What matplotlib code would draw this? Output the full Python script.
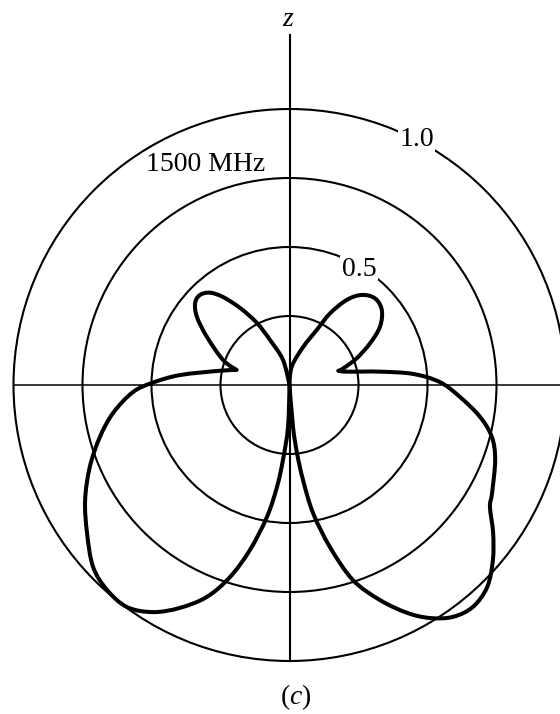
import numpy as np
import matplotlib
matplotlib.use("Agg")
import matplotlib.pyplot as plt
from matplotlib.path import Path
from matplotlib.patches import PathPatch, Circle

plt.rcParams["mathtext.fontset"] = "custom"
plt.rcParams["mathtext.rm"] = "Liberation Serif"
plt.rcParams["mathtext.it"] = "Liberation Serif:italic"

# ---- data (angle from +z axis in degrees, normalized field magnitude) ----
right_theta = [0, 6.9, 19.8, 26.3, 29.5, 33.9, 38.7, 44.6, 50.9, 57.2, 62.6, 68.3, 72.8, 73.7,
               76.9, 81.6, 84.9, 88.9, 94.0, 99.5, 104.4, 110.0, 118.1, 121.3, 126.0, 130.7,
               135.6, 140.4, 144.8, 148.9, 152.7, 157.2, 162.0, 166.0, 169.6, 171.9, 173.7,
               175.2, 180]
right_r = [0, 0.067, 0.147, 0.222, 0.298, 0.371, 0.418, 0.441, 0.431, 0.390, 0.329, 0.262, 0.204, 0.184,
           0.213, 0.331, 0.450, 0.545, 0.619, 0.700, 0.757, 0.793, 0.832, 0.850, 0.912, 0.972,
           1.024, 1.043, 1.028, 0.986, 0.929, 0.845, 0.743, 0.605, 0.471, 0.348, 0.248,
           0.153, 0]

left_theta = [0, 14.6, 23.4, 27.7, 32.7, 37.1, 40.7, 44.8, 49.0, 53.7, 59.8, 69.4, 74.1,
              78.4, 84.8, 89.0, 92.6, 99.0, 105.3, 112.3, 119.4, 126.2, 132.8, 138.3, 143.8,
              149.0, 153.8, 158.7, 162.8, 166.5, 170.3, 173.0, 175.0, 178.0, 180]
left_r = [0, 0.094, 0.178, 0.254, 0.332, 0.400, 0.441, 0.460, 0.453, 0.416, 0.346, 0.257, 0.199,
          0.257, 0.398, 0.495, 0.568, 0.647, 0.712, 0.782, 0.850, 0.909, 0.970, 0.994, 0.997,
          0.960, 0.900, 0.824, 0.728, 0.615, 0.485, 0.372, 0.273, 0.152, 0]

# sharp corners (nulls) of the pattern, by angle
right_corners = [0, 73.7, 180]
left_corners = [0, 74.1, 180]

grid_radii = [0.25, 0.5, 0.75, 1.0]
label_text = "1500 MHz"
radius_labels = ["1.0", "0.5"]
axis_label = "z"
caption = "($c$)"

# ---- figure ----
W, H = 560, 714
fig = plt.figure(figsize=(W / 100, H / 100), dpi=100)
cx, cy, R = 289.5, 385.0, 276.0
ax = fig.add_axes([0, 0, 1, 1])
ax.set_xlim(-cx / R, (W - cx) / R)
ax.set_ylim(-(H - cy) / R, cy / R)
ax.axis("off")

for rr in grid_radii:
    ax.add_patch(Circle((0, 0), rr, fill=False, edgecolor="black", lw=1.5, zorder=2))

# axis lines
ax.plot([-1.0, 1.0], [0, 0], color="black", lw=1.1, zorder=2)
ax.plot([0, 0], [-1.0, 1.268], color="black", lw=1.5, zorder=2)


def smooth_path(theta_deg, r, corners, sign):
    th = np.deg2rad(np.asarray(theta_deg, float))
    r = np.asarray(r, float)
    P = np.column_stack([sign * r * np.sin(th), r * np.cos(th)])
    n = len(P)
    T = np.zeros_like(P)
    for i in range(1, n - 1):
        T[i] = (P[i + 1] - P[i - 1]) / 2.0
    for i, t in enumerate(theta_deg):
        if t in corners:
            T[i] = 0.0
    verts = [P[0]]
    codes = [Path.MOVETO]
    for i in range(n - 1):
        verts += [P[i] + T[i] / 3.0, P[i + 1] - T[i + 1] / 3.0, P[i + 1]]
        codes += [Path.CURVE4] * 3
    return Path(verts, codes)


for th_, r_, cor, s in [(right_theta, right_r, right_corners, 1),
                        (left_theta, left_r, left_corners, -1)]:
    ax.add_patch(PathPatch(smooth_path(th_, r_, cor, s), fill=False, edgecolor="black",
                           lw=2.9, joinstyle="round", capstyle="round", zorder=4))

font = dict(family="Liberation Serif", size=20)
bbox = dict(facecolor="white", edgecolor="none", pad=1.0)


def px(x, y):
    return x / W, 1 - y / H


fig.text(*px(206, 171), label_text, ha="center", va="baseline", fontdict=font, bbox=bbox, zorder=5)
fig.text(*px(416.5, 146), radius_labels[0], ha="center", va="baseline", fontdict=font, bbox=bbox, zorder=5)
fig.text(*px(359, 276), radius_labels[1], ha="center", va="baseline", fontdict=font, bbox=bbox, zorder=5)
fig.text(*px(288, 26), axis_label, ha="center", va="baseline", fontdict=font, style="italic", zorder=5)
fig.text(*px(296, 697), caption, ha="center", va="center", fontdict=font, zorder=5)

fig.savefig("out.png", dpi=100)
